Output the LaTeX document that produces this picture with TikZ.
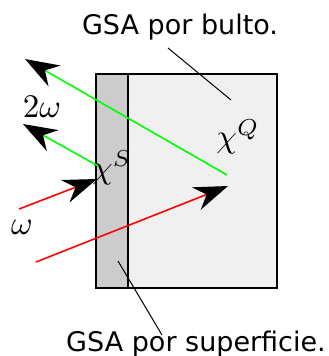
\documentclass[tikz,border=0pt]{standalone}
\usepackage{fontspec}
\setmainfont{DejaVu Sans}
\usetikzlibrary{arrows.meta}
\begin{document}
\begin{tikzpicture}[x=1pt,y=-1pt,
  lbl/.style={font=\fontsize{27}{31}\selectfont, inner sep=0pt},
  mth/.style={font=\normalsize, inner sep=0pt, scale=3.3, transform shape},
  ray/.style={line width=1.6pt, -{Stealth[length=34pt,width=24pt,inset=11pt,black]}},
  leader/.style={line width=1pt, black}]
\useasboundingbox (0,0) rectangle (329,356);
% box
\node[draw=black, line width=1.5pt, fill=black!6, minimum width=181pt, minimum height=214pt, inner sep=0pt, anchor=north west] (bulk) at (95,73) {};
\node[draw=black, line width=1.5pt, fill=black!20, minimum width=32pt, minimum height=214pt, inner sep=0pt, anchor=north west] (surf) at (95,73) {};
% labels
\node[mth] (chiS) at (112,168) {$\chi^S$};
\node[mth] (chiQ) at (238,137) {$\chi^Q$};
\node[mth, anchor=base] (two) at (42,117) {$2\omega$};
\node[mth, anchor=base] (om) at (22,234) {$\omega$};
\node[lbl, anchor=base] (tbulk) at (180,34) {GSA por bulto.};
\node[lbl, anchor=base] (tsurf) at (196,351) {GSA por superficie.};
% coordinates
\coordinate (g1s) at (227,175);
\coordinate (g1e) at (25,59);
\coordinate (g2s) at (98,166);
\coordinate (g2e) at (23,124);
\coordinate (r1s) at (19,209);
\coordinate (r1e) at (97,179);
\coordinate (r2s) at (36,262);
\coordinate (r2e) at (228,186);
\coordinate (l1a) at (168,48);
\coordinate (l1b) at (231,100);
\coordinate (l2a) at (118,261);
\coordinate (l2b) at (162,335);
% rays
\draw[ray, green] (g1s) -- (g1e);
\draw[ray, green] (g2s) -- (g2e);
\draw[ray, red] (r1s) -- (r1e);
\draw[ray, red] (r2s) -- (r2e);
% leaders
\draw[leader] (l1a) -- (l1b);
\draw[leader] (l2a) -- (l2b);
\end{tikzpicture}
\end{document}
